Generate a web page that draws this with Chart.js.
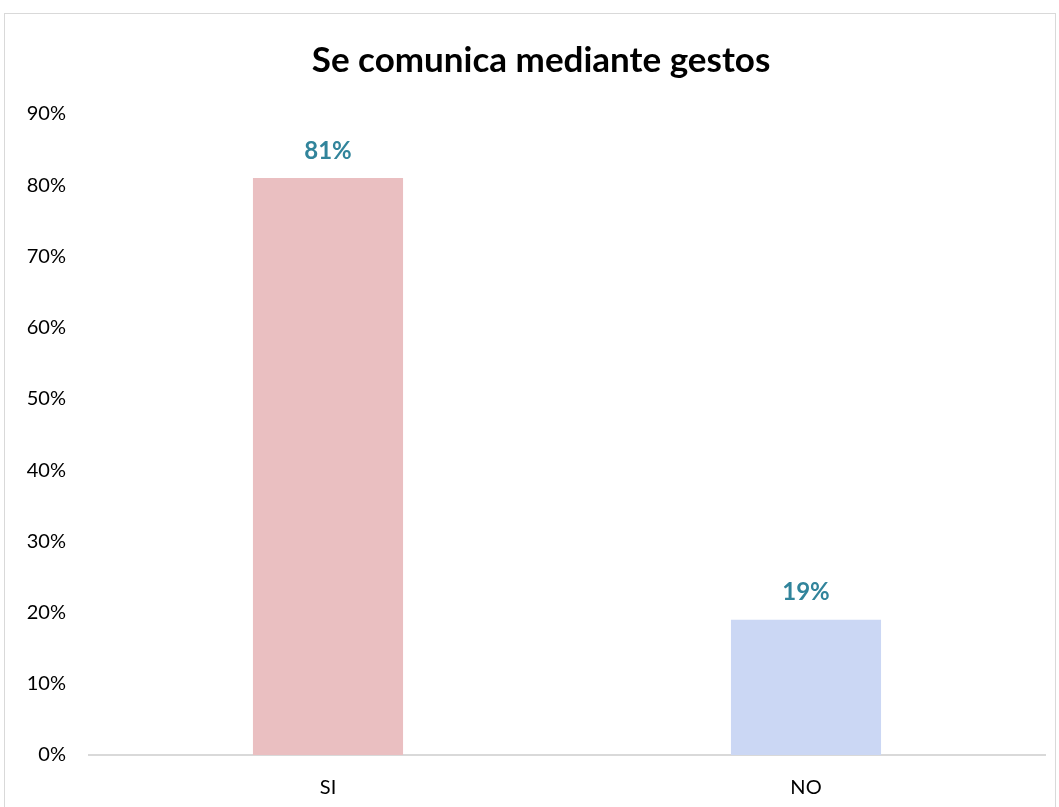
<!DOCTYPE html>
<html>
<head>
<meta charset="utf-8">
<script src="https://cdn.jsdelivr.net/npm/chart.js@4/dist/chart.umd.min.js"></script>
<style>
  body { margin: 0; background: #fff; }
  #box {
    position: absolute; left: 4px; top: 13px;
    width: 1050px; height: 810px;
    border: 1px solid #d9d9d9;
  }
  #myChartArea { display: block; }
</style>
</head>
<body>
<div id="box"><canvas id="myChartArea" width="1050" height="793"></canvas></div>
<script>
var categories = ['SI', 'NO'];
var values = [81, 19];
var yTicks = [0, 10, 20, 30, 40, 50, 60, 70, 80, 90];
var chartTitle = 'Se comunica mediante gestos';

// draws "81%" etc above each bar
var barLabels = {
    id: 'barLabels',
    afterDatasetsDraw: function (chart) {
        var ctx = chart.ctx;
        var meta = chart.getDatasetMeta(0);
        ctx.save();
        ctx.font = 'bold 24px Lato';
        ctx.fillStyle = '#31849b';
        ctx.textAlign = 'center';
        ctx.textBaseline = 'middle';
        meta.data.forEach(function (bar, i) {
            ctx.fillText(values[i] + '%', bar.x, bar.y - 27);
        });
        ctx.restore();
    }
};

// title sits a bit right of the canvas centre
var titleText = {
    id: 'titleText',
    afterDraw: function (chart) {
        var ctx = chart.ctx;
        ctx.save();
        ctx.font = 'bold 35px Lato';
        ctx.fillStyle = '#000';
        ctx.textAlign = 'center';
        ctx.textBaseline = 'middle';
        ctx.fillText(chartTitle, chart.width / 2 + 11, 47);
        ctx.restore();
    }
};

var ctx_chart = document.getElementById('myChartArea');
var chart_main = new Chart(ctx_chart, {
    type: 'bar',
    data: {
        labels: categories,
        datasets: [{
            data: values,
            backgroundColor: ['#eabfc1', '#cbd7f4'],
            borderWidth: 0,
            barPercentage: 0.314,
            categoryPercentage: 1
        }]
    },
    options: {
        responsive: false,
        animation: false,
        layout: { padding: { left: 0, right: 10, top: 100, bottom: 0 } },
        plugins: {
            legend: { display: false },
            tooltip: { enabled: false },
            title: { display: false }
        },
        scales: {
            x: {
                grid: { display: false },
                border: { display: true, color: '#d9d9d9', width: 2 },
                ticks: { color: '#000', font: { family: 'Lato', size: 20 }, padding: 13 },
                afterFit: function (scale) { scale.height = 52; }
            },
            y: {
                min: 0,
                max: 90,
                afterBuildTicks: function (scale) {
                    scale.ticks = yTicks.map(function (v) { return { value: v }; });
                },
                grid: { display: false, drawTicks: false },
                border: { display: false },
                ticks: {
                    color: '#000',
                    font: { family: 'Lato', size: 20 },
                    padding: 23,
                    callback: function (v) { return v + '%'; }
                },
                afterFit: function (scale) { scale.width = 84; }
            }
        }
    },
    plugins: [barLabels, titleText]
});
</script>
</body>
</html>
